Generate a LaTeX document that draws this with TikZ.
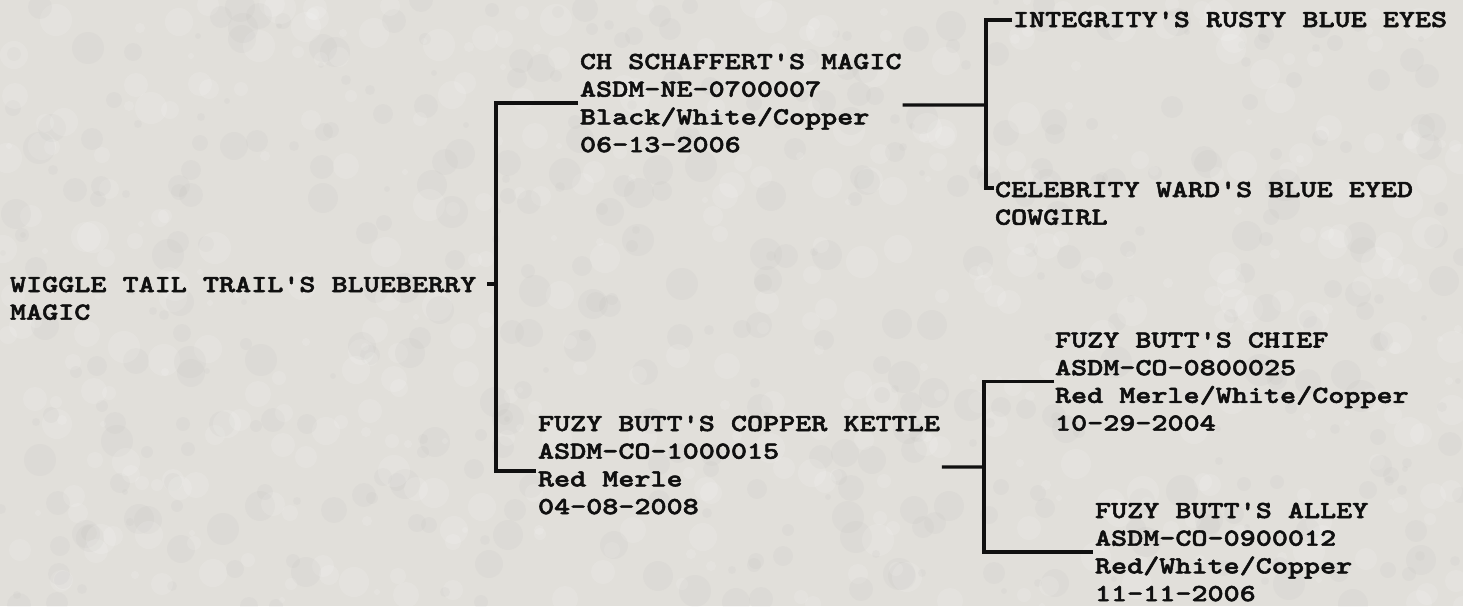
\documentclass[tikz,border=0pt]{standalone}
\usepackage{fontspec}
\usetikzlibrary{calc}
\newfontfamily\pedface{lmmonolt10-bold.otf}[FakeStretch=1.25,FakeBold=2.2]
\definecolor{paper}{RGB}{225,223,218}
\definecolor{ink}{RGB}{16,16,16}
\newcommand\pedfont{\pedface\fontsize{12.25pt}{13.85pt}\selectfont}
\newcommand\pedblock[1]{\begin{tabular}[t]{@{}l@{}}#1\end{tabular}}
\begin{document}
\begin{tikzpicture}[x=0.5pt,y=-0.5pt,
  blk/.style={anchor=base west, inner sep=0pt, outer sep=0pt, font=\pedfont, text=ink},
  conn/.style={draw=ink, line width=1.6pt}]
\useasboundingbox (0,0) rectangle (1463,606);
\begin{scope}
\clip (0,0) rectangle (1463,606);
\fill[paper] (0,0) rectangle (1463,606);
\pgfmathsetseed{42}
\foreach \i in {1,...,900}{
  \pgfmathtruncatemacro\xx{random(0,1463)}
  \pgfmathtruncatemacro\yy{random(0,606)}
  \pgfmathtruncatemacro\rr{random(3,16)}
  \pgfmathtruncatemacro\cc{random(0,1)}
  \ifnum\cc=0
    \fill[white,opacity=0.12] (\xx,\yy) circle (\rr);
  \else
    \fill[black!40,opacity=0.06] (\xx,\yy) circle (\rr);
  \fi
}
\end{scope}

\node[blk] (wiggle) at (10,292) {\pedblock{WIGGLE TAIL TRAIL'S BLUEBERRY\\MAGIC}};
\node[blk] (sire) at (580,69) {\pedblock{CH SCHAFFERT'S MAGIC\\ASDM-NE-0700007\\Black/White/Copper\\06-13-2006}};
\node[blk] (dam) at (538,431) {\pedblock{FUZY BUTT'S COPPER KETTLE\\ASDM-CO-1000015\\Red Merle\\04-08-2008}};
\node[blk] (ss) at (1013,27) {\pedblock{INTEGRITY'S RUSTY BLUE EYES}};
\node[blk] (sd) at (995,197) {\pedblock{CELEBRITY WARD'S BLUE EYED\\COWGIRL}};
\node[blk] (ds) at (1055,347.5) {\pedblock{FUZY BUTT'S CHIEF\\ASDM-CO-0800025\\Red Merle/White/Copper\\10-29-2004}};
\node[blk] (dd) at (1095,518) {\pedblock{FUZY BUTT'S ALLEY\\ASDM-CO-0900012\\Red/White/Copper\\11-11-2006}};

\coordinate (jm) at (496,287);
\coordinate (jt) at (986,105);
\coordinate (jb) at (984,467);

\draw[conn] ($(sire.west)+(-2,-2)$) -| (jm) |- ($(dam.west)+(-2,4)$);
\draw[conn] ($(wiggle.base east)+(11,-8)$) coordinate (ws) -- (ws -| jm);
\draw[conn] ($(sire.east)+(1,0)$) -- (jt);
\draw[conn] ($(ss.west)+(-1,-1.5)$) -| (jt) |- ($(sd.base west)+(-1,-9)$);
\draw[conn] ($(dam.east)+(2,0)$) -- (jb);
\draw[conn] ($(ds.west)+(-1,-2)$) -| (jb) |- ($(dd.west)+(-2,-2)$);
\end{tikzpicture}
\end{document}
